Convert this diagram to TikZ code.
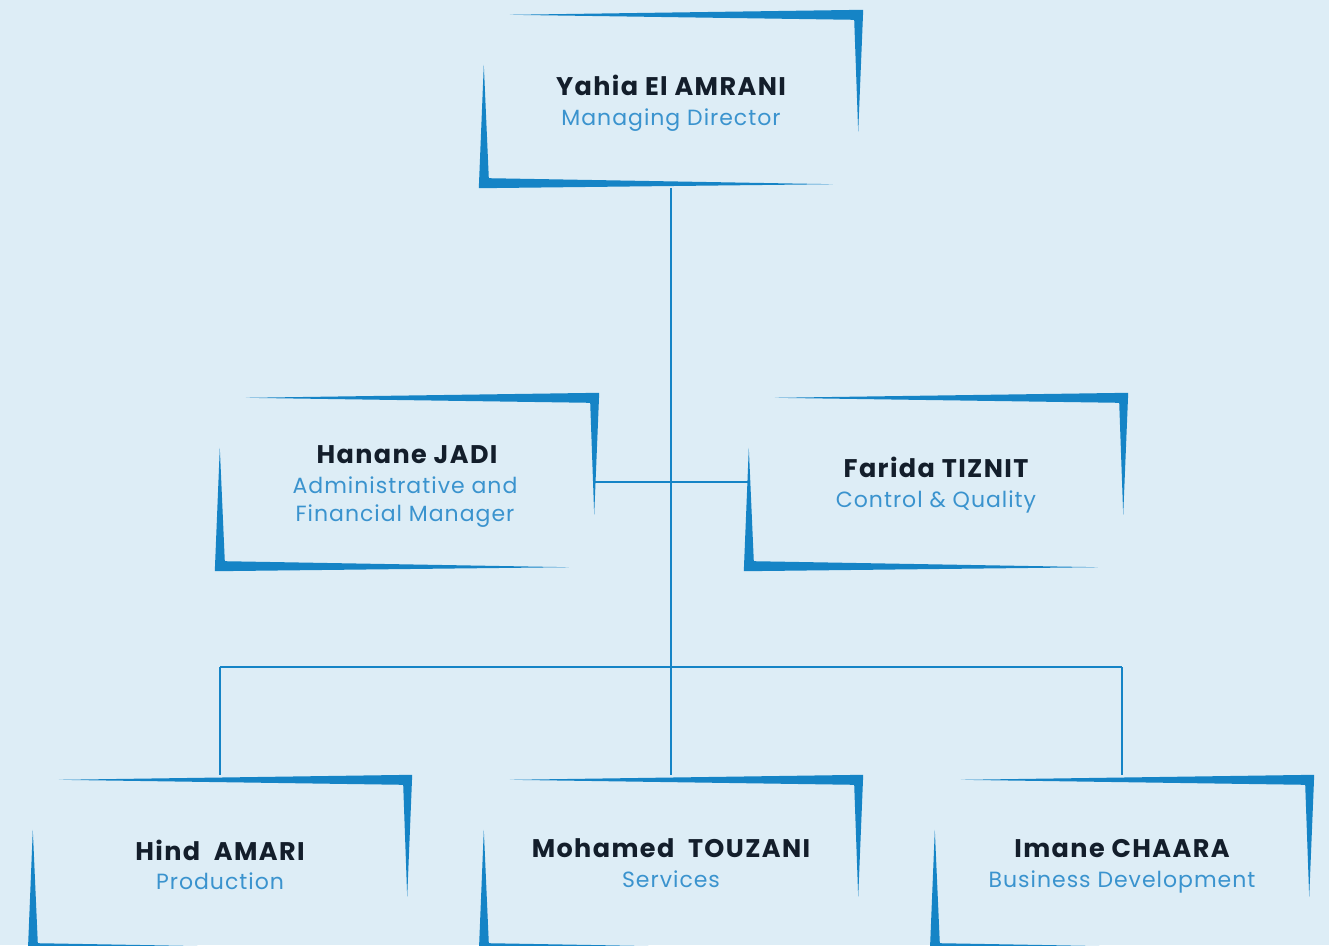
\documentclass[tikz,border=0pt]{standalone}
\usepackage{fontspec}
\setmainfont{Poppins}
\newfontfamily\namefont{Poppins}[LetterSpace=5.5]
\newfontfamily\titlefont{Poppins}[LetterSpace=4.5]
\usetikzlibrary{calc}
\definecolor{bg}{HTML}{DDEDF6}
\definecolor{brush}{HTML}{1584C6}
\definecolor{namec}{HTML}{131E2B}
\definecolor{titlec}{HTML}{3A93CE}
\newcommand\brushbox[1]{%
  \fill[brush] ($(#1.north west)+(31,5)$) -- (#1.north east) -- ($(#1.north east)+(-5,122)$) -- ($(#1.north east)+(-9,10)$) -- cycle;
  \fill[brush] ($(#1.north west)+(5,55)$) -- (#1.south west) -- ($(#1.south west)+(354,-4)$) -- ($(#1.south west)+(10,-10)$) -- cycle;}
\begin{document}
\begin{tikzpicture}[x=1pt,y=-1pt,
  box/.style={minimum width=384pt,minimum height=178pt,inner sep=0pt,draw=none},
  nm/.style={anchor=base,inner sep=0pt,text=namec,font=\namefont\fontsize{25.5}{30}\selectfont\bfseries},
  ttl/.style={anchor=base,inner sep=0pt,text=titlec,font=\titlefont\fontsize{22}{28}\selectfont,align=center},
  link/.style={draw=brush,line width=2pt}]
\fill[bg] (0,0) rectangle (1329,945);
\useasboundingbox (0,0) rectangle (1329,945);
% boxes
\node[box] (md) at (671,99) {};
\node[box] (adm) at (407,482) {};
\node[box] (cq) at (936,482) {};
\node[box] (prod) at (220,864) {};
\node[box] (serv) at (671,864) {};
\node[box] (bd) at (1122,864) {};
% connectors
\coordinate (j2) at (671,667);
\coordinate (h1) at (220,667);
\coordinate (h3) at (1122,667);
\coordinate (al) at (594,482);
\coordinate (cl) at (748,482);
\draw[link] (md.south) -- (j2);
\draw[link] (al) -- (cl);
\draw[link] (h1) -- (h3);
\draw[link] (h1) -- (prod.north);
\draw[link] (j2) -- (serv.north);
\draw[link] (h3) -- (bd.north);
% brush frames
\brushbox{md}
\brushbox{adm}
\brushbox{cq}
\brushbox{prod}
\brushbox{serv}
\brushbox{bd}
% texts
\node[nm] (mdn) at (671,95) {Yahia El AMRANI};
\node[ttl] (mdt) at (671,125) {Managing Director};
\node[nm] (admn) at (407,463) {Hanane JADI};
\node[ttl] (admt) at (405,521) {Administrative and\\ Financial Manager};
\node[nm] (cqn) at (936,477) {Farida TIZNIT};
\node[ttl] (cqt) at (936,507) {Control \& Quality};
\node[nm] (prodn) at (220,860) {Hind\ \ AMARI};
\node[ttl] (prodt) at (220,889) {Production};
\node[nm] (servn) at (671,857) {Mohamed\ \ TOUZANI};
\node[ttl] (servt) at (671,887) {Services};
\node[nm] (bdn) at (1122,857) {Imane CHAARA};
\node[ttl] (bdt) at (1122,887) {Business Development};
\end{tikzpicture}
\end{document}
